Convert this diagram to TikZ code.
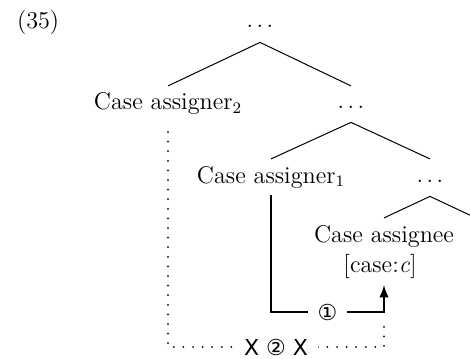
\documentclass[tikz,border=0pt]{standalone}
\usepackage{fontspec}
\usepackage{tikz}
\usetikzlibrary{arrows,positioning}
\newfontfamily\circfont{DejaVu Sans}
\newcommand{\wdots}{.\kern1.7pt.\kern1.7pt.}
\tikzstyle{word}=[inner sep=3.33pt, font=\fontsize{12.1}{14.5}\selectfont]
\tikzstyle{dotsnode}=[word, inner ysep=7pt]
\tikzstyle{branch}=[line width=0.5pt]
\tikzstyle{checked}=[line width=1.1pt]
\tikzstyle{blocked}=[line width=1pt, line cap=round, dash pattern=on 0pt off 4.8pt]
\tikzstyle{marker}=[fill=white, inner xsep=5pt, inner ysep=0.5pt, font=\circfont\fontsize{11}{13}\selectfont]

\begin{document}
\begin{tikzpicture}[x=0.5pt, y=-0.5pt]
\useasboundingbox (0,0) rectangle (470,358);

\node[word, anchor=base west] (ex) at (10,29) {(\oldstylenums{35})};

\node[dotsnode, anchor=base] (top) at (260,28) {\wdots};
\node[word, anchor=base] (ca2) at (168,110) {Case assigner$_2$};
\node[dotsnode, anchor=base] (mid) at (351,108) {\wdots};
\node[word, anchor=base] (ca1) at (271,183) {Case assigner$_1$};
\node[dotsnode, anchor=base] (low) at (430,182) {\wdots};
\node[word, anchor=base] (cae) at (384,242) {Case assignee};
\node[word, anchor=base] (feat) at (380,272) {[case:\textit{c}]};

\coordinate (cut) at (476,218);
\coordinate (j1) at (384,312);
\coordinate (j2) at (384,347);

\draw[branch] (top.south) -- (ca2.north);
\draw[branch] (top.south) -- (mid.north |- ca2.north);
\draw[branch] (mid.south) -- (ca1.north);
\draw[branch] (mid.south) -- (low.north |- ca1.north);
\draw[branch] (low.south) -- (cae.north);
\draw[branch] (low.south) -- (cut);

\draw[checked,-latex] (ca1.south) |- node[marker,pos=0.75] {①} (j1) -- (j1 |- feat.south);
\draw[blocked, shorten <=5pt, shorten >=3pt] (ca2.south) |- node[marker,pos=0.75] {X ② X} (j2) -- (j1);

\end{tikzpicture}
\end{document}
